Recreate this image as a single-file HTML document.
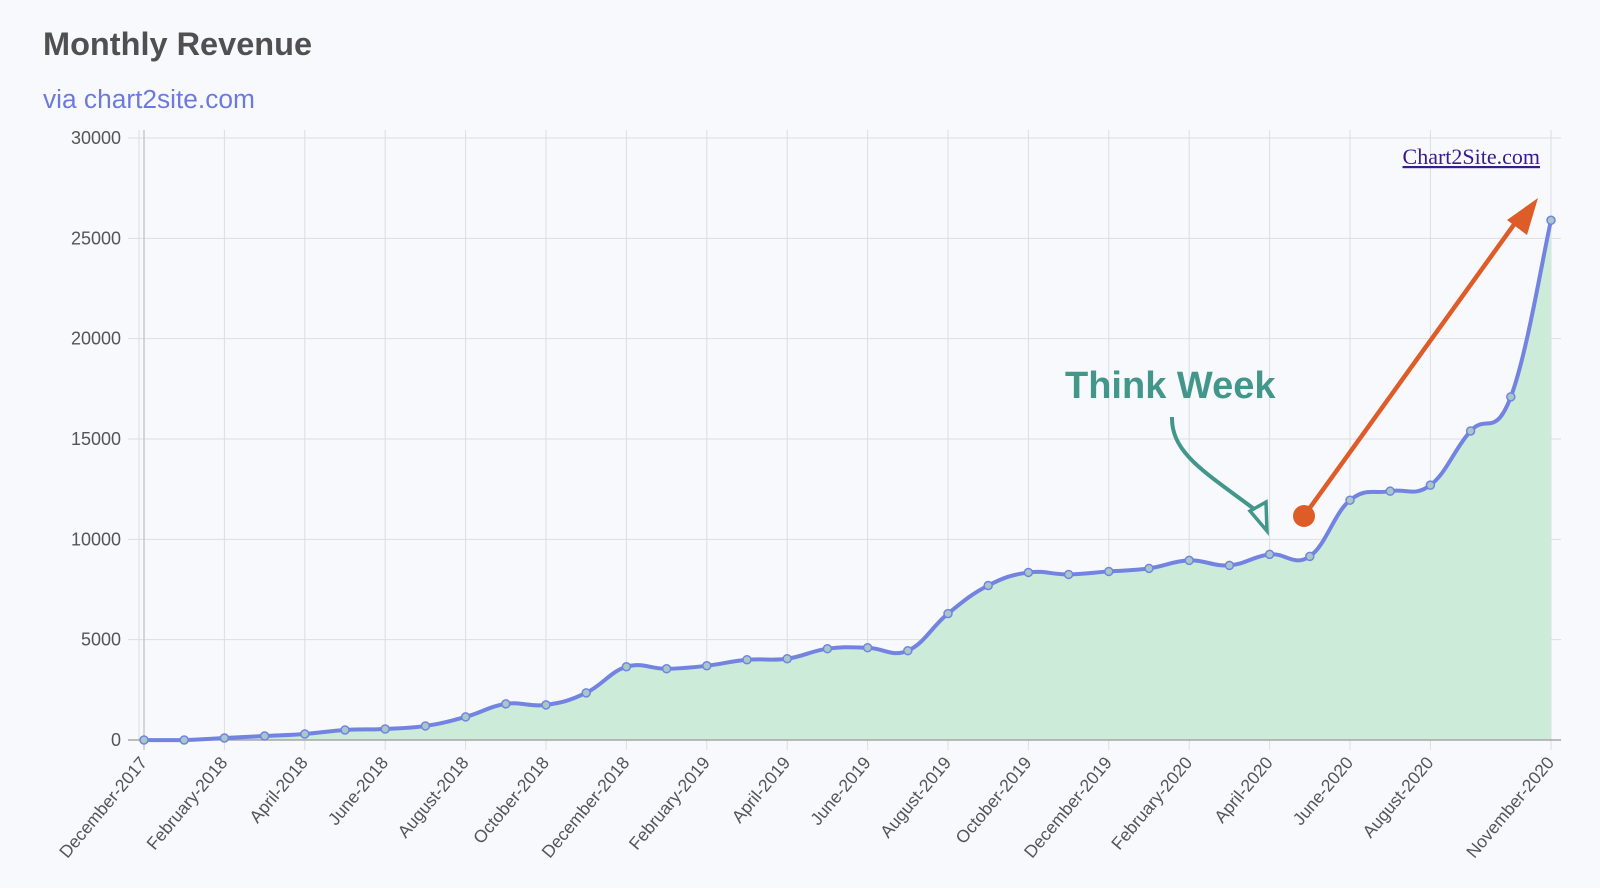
<!DOCTYPE html>
<html><head><meta charset="utf-8"><style>
body{margin:0;background:#f8f9fd;width:1600px;height:883px;overflow:hidden;font-family:"Liberation Sans",sans-serif}
</style></head><body>
<svg id="s" width="1600" height="883" xmlns="http://www.w3.org/2000/svg" font-family="Liberation Sans, sans-serif">
<rect width="1600" height="883" fill="#f8f9fd"/>
<text x="43" y="55" font-size="32.5" font-weight="bold" fill="#505050">Monthly Revenue</text>
<text x="43" y="108" font-size="26.3" fill="#6c7ae0">via chart2site.com</text>
<g id="grid" stroke="#dcdde2" stroke-width="1"></g>
<g id="yl" font-size="18" fill="#555" text-anchor="end"></g>
<path id="area" fill="#cdebd9" stroke="none"/>
<line x1="128" y1="740" x2="1561" y2="740" stroke="#999" stroke-width="1.2"/>
<line x1="144" y1="130" x2="144" y2="750" stroke="#c8c9ce" stroke-width="1.5"/>
<path id="line" fill="none" stroke="#7383e2" stroke-width="4"/>
<g id="pts"></g>
<g id="xl" font-size="17.5" fill="#555" text-anchor="end"></g>
<text x="1540" y="164" font-size="22" fill="#3a1a8c" text-anchor="end" font-family="Liberation Serif, serif" text-decoration="underline">Chart2Site.com</text>
<text x="1065" y="398" font-size="38" font-weight="bold" fill="#43978a">Think Week</text>
<path d="M1172 417 C1171 455 1210 475 1262 515" fill="none" stroke="#43978a" stroke-width="4"/>
<polygon points="1266,502 1267,531 1250,511" fill="#f8f9fd" stroke="#43978a" stroke-width="3.5"/>
<line x1="1304" y1="516" x2="1518" y2="219" stroke="#dd5c27" stroke-width="4.5"/>
<polygon points="1538,198 1527,235 1507,220" fill="#dd5c27"/>
<circle cx="1304" cy="516" r="11" fill="#dd5c27"/>
</svg>
<script>
var d=[0,0,100,200,300,500,550,700,1150,1800,1750,2350,3650,3550,3700,4000,4050,4550,4600,4450,6300,7700,8350,8250,8400,8550,8950,8700,9250,9150,11950,12400,12700,15400,17100,25900];
var months=["January","February","March","April","May","June","July","August","September","October","November","December"];
var X=i=>144+i*(1407/35),Y=v=>740-v*602/30000;
var ns="http://www.w3.org/2000/svg";
function el(t,a,p,txt){var e=document.createElementNS(ns,t);for(var k in a)e.setAttribute(k,a[k]);if(txt)e.textContent=txt;document.getElementById(p).appendChild(e);}
for(var v=0;v<=30000;v+=5000){el("line",{x1:128,x2:1561,y1:Y(v),y2:Y(v)},"grid");el("text",{x:121,y:Y(v)+6},"yl",""+v);}
el("line",{x1:139,x2:139,y1:130,y2:740},"grid");
var labs=[];for(var i=0;i<34;i+=2)labs.push(i);labs.push(35);
labs.forEach(function(i){var x=X(i);el("line",{x1:x,x2:x,y1:130,y2:750},"grid");
var m=(11+i)%12,yr=2017+Math.floor((11+i)/12);
el("text",{x:x+4,y:763,transform:"rotate(-50 "+(x+4)+" 763)"},"xl",months[m]+"-"+yr);});
var p=d.map((v,i)=>[X(i),Y(v)]);var s="M"+p[0][0]+" "+p[0][1];var t=0.2;
for(var i=0;i<p.length-1;i++){var p0=p[i-1]||p[i],p1=p[i],p2=p[i+1],p3=p[i+2]||p2;
s+=" C"+(p1[0]+(p2[0]-p0[0])*t)+" "+(p1[1]+(p2[1]-p0[1])*t)+" "+(p2[0]-(p3[0]-p1[0])*t)+" "+(p2[1]-(p3[1]-p1[1])*t)+" "+p2[0]+" "+p2[1];}
document.getElementById("line").setAttribute("d",s);
document.getElementById("area").setAttribute("d",s+" L"+X(35)+" 740 L144 740Z");
p.forEach(q=>el("circle",{cx:q[0],cy:q[1],r:4,fill:"#a6c9c8",stroke:"#7383e2","stroke-width":1.5},"pts"));
</script>
</body></html>
